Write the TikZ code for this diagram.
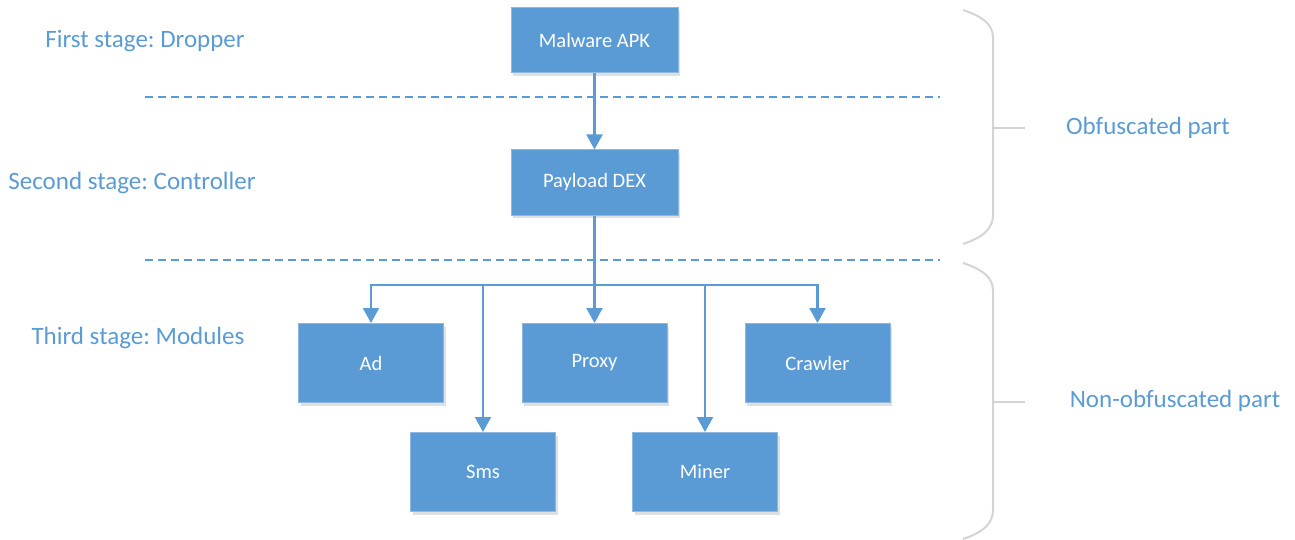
\documentclass[tikz,border=0pt]{standalone}
\usepackage{fontspec}
\setmainfont{Carlito}
\usetikzlibrary{arrows.meta,shadows}
\definecolor{ofblue}{HTML}{5B9BD5}
\definecolor{ofedge}{HTML}{8DB8E2}
\definecolor{bracegray}{HTML}{D4D4D4}
\tikzset{
  box/.style={draw=ofedge, line width=1pt, fill=ofblue, text=white, minimum width=145pt, minimum height=79pt, inner sep=0pt, font=\fontsize{20.5}{24}\selectfont,
    drop shadow={shadow xshift=2pt, shadow yshift=-3pt, fill=black, opacity=0.12}},
  bigbox/.style={box, minimum width=167pt, minimum height=65pt},
  lbl/.style={text=ofblue, font=\fontsize{25}{30}\selectfont, inner sep=0pt},
  conn/.style={draw=ofblue, line width=2.2pt},
  arr/.style={conn, -{Triangle[width=16pt,length=15pt]}},
  divider/.style={draw=ofblue, line width=2pt, dash pattern=on 8pt off 5pt},
  bracestyle/.style={draw=bracegray, line width=2pt},
}
\begin{document}
\frenchspacing
\begin{tikzpicture}[x=1pt,y=-1pt]
\useasboundingbox (0,0) rectangle (1295,540);

% dividers
\coordinate (d1a) at (145,97);
\coordinate (d1b) at (940,97);
\coordinate (d2a) at (145,260);
\coordinate (d2b) at (940,260);
\draw[divider] (d1a) -- (d1b);
\draw[divider] (d2a) -- (d2b);

% boxes
\node[bigbox] (apk) at (594.5,40.5) {Malware APK};
\node[bigbox] (dex) at (594.5,182.5) {Payload DEX};
\node[box] (ad) at (371,363) {Ad};
\node[box] (proxy) at (594.5,363) {Proxy};
\node[box] (crawler) at (817.5,363) {Crawler};
\node[box] (sms) at (483,472) {Sms};
\node[box] (miner) at (705,472) {Miner};

% connectors
\draw[arr] (apk) -- (dex);
\coordinate (hub) at (594.5,285);
\draw[conn] (dex.south) -- (hub);
\draw[arr] (hub) -- (proxy.north);
\draw[arr] (hub) -| (ad.north);
\draw[arr] (hub) -| (sms.north);
\draw[arr] (hub) -| (miner.north);
\draw[arr] (hub) -| (crawler.north);

% stage labels
\node[lbl] (s1) at (145,41) {First stage: Dropper};
\node[lbl] (s2) at (132,183) {Second stage: Controller};
\node[lbl] (s3) at (138,338) {Third stage: Modules};

% braces
\coordinate (b1tip) at (1025,128);
\coordinate (b2tip) at (1025,402);
\draw[bracestyle] (963,10) .. controls (984,17) and (993,25) .. (993,38) -- (993,215) .. controls (993,228) and (984,237) .. (963,244);
\draw[bracestyle] (993,128) -- (b1tip);
\draw[bracestyle] (963,263) .. controls (984,270) and (993,278) .. (993,291) -- (993,510) .. controls (993,523) and (984,532) .. (963,539);
\draw[bracestyle] (993,402) -- (b2tip);

\node[lbl] (obf) at (1148,128) {Obfuscated part};
\node[lbl] (nonobf) at (1175,401) {Non-obfuscated part};
\end{tikzpicture}
\end{document}
